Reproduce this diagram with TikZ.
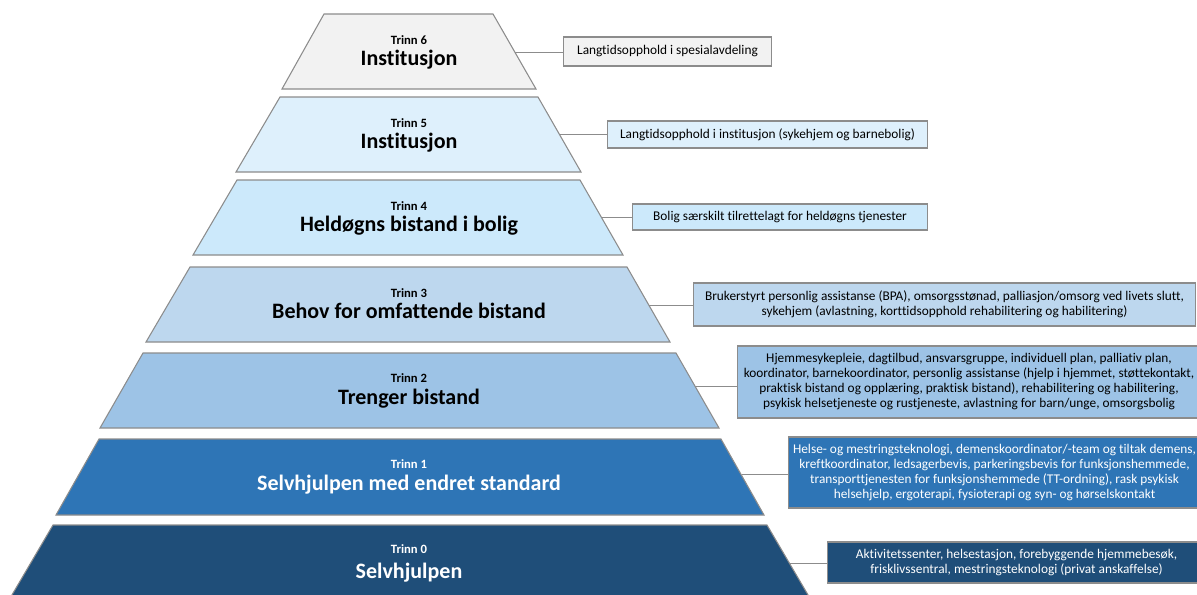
\documentclass[tikz,border=0pt]{standalone}
\usepackage{fontspec}
\setmainfont{Carlito}[Ligatures=NoCommon]
\definecolor{kant}{HTML}{8C8C8C}
\definecolor{farge6}{HTML}{F2F2F2}
\definecolor{farge5}{HTML}{DEF0FC}
\definecolor{farge4}{HTML}{CCE9FB}
\definecolor{farge3}{HTML}{BDD7EE}
\definecolor{farge2}{HTML}{9DC3E6}
\definecolor{farge1}{HTML}{2E75B6}
\definecolor{farge0}{HTML}{1F4E79}
\tikzset{
  niva/.style={draw=kant, line width=0.8pt},
  boks/.style={draw=kant, line width=0.8pt, anchor=west, align=center, inner sep=2pt,
    font=\fontsize{10}{11.25}\selectfont},
  trinn/.style={anchor=base, font=\fontsize{9.5}{11}\selectfont\bfseries},
  tittel/.style={anchor=base, font=\fontsize{16.5}{19}\selectfont\bfseries},
  linje/.style={draw=kant, line width=0.7pt}
}
\begin{document}
\begin{tikzpicture}[x=0.75pt, y=-0.75pt]
\useasboundingbox (0,0) rectangle (1197,594);
% trinn 6
\draw[niva, fill=farge6] (324,14) -- (493,14) -- (536,89) -- (282,89) -- cycle;
\node[trinn] (n6) at (409,44) {Trinn 6};
\node[tittel] (t6) at (409,65) {Institusjon};
% trinn 5
\draw[niva, fill=farge5] (280,97) -- (538,97) -- (581,172) -- (236,172) -- cycle;
\node[trinn] (n5) at (409,127) {Trinn 5};
\node[tittel] (t5) at (409,148) {Institusjon};
% trinn 4
\draw[niva, fill=farge4] (237,180) -- (580,180) -- (623,255) -- (193,255) -- cycle;
\node[trinn] (n4) at (409,210) {Trinn 4};
\node[tittel] (t4) at (409,231) {Heldøgns bistand i bolig};
% trinn 3
\draw[niva, fill=farge3] (190,267) -- (627,267) -- (670,342) -- (146,342) -- cycle;
\node[trinn] (n3) at (409,297) {Trinn 3};
\node[tittel] (t3) at (409,318) {Behov for omfattende bistand};
% trinn 2
\draw[niva, fill=farge2] (143,353) -- (676,353) -- (719,428) -- (100,428) -- cycle;
\node[trinn] (n2) at (409,382) {Trinn 2};
\node[tittel] (t2) at (409,404) {Trenger bistand};
% trinn 1
\draw[niva, fill=farge1] (99,439) -- (721,439) -- (764,515) -- (56,515) -- cycle;
\node[trinn, text=white] (n1) at (409,468) {Trinn 1};
\node[tittel, text=white] (t1) at (409,490) {Selvhjulpen med endret standard};
% trinn 0
\draw[niva, fill=farge0] (53,525) -- (767,525) -- (811,600) -- (9,600) -- cycle;
\node[trinn, text=white] (n0) at (409,553) {Trinn 0};
\node[tittel, text=white] (t0) at (409,578) {Selvhjulpen};
% tjenester
\node[boks, fill=farge6, minimum width=156pt, minimum height=21.75pt] (b6) at (563,51.5)
  {Langtidsopphold i spesialavdeling};
\node[boks, fill=farge5, minimum width=240pt, minimum height=20.25pt] (b5) at (607,134.5)
  {Langtidsopphold i institusjon (sykehjem og barnebolig)};
\node[boks, fill=farge4, minimum width=221.25pt, minimum height=19.5pt] (b4) at (632,217)
  {Bolig særskilt tilrettelagt for heldøgns tjenester};
\node[boks, fill=farge3, minimum width=376.5pt, minimum height=32.25pt] (b3) at (693,304.5)
  {Brukerstyrt personlig assistanse (BPA), omsorgsstønad, palliasjon/omsorg ved livets slutt,\\
   sykehjem (avlastning, korttidsopphold rehabilitering og habilitering)};
\node[boks, fill=farge2, minimum width=347.25pt, minimum height=54pt] (b2) at (737,382)
  {Hjemmesykepleie, dagtilbud, ansvarsgruppe, individuell plan, palliativ plan,\\
   koordinator, barnekoordinator, personlig assistanse (hjelp i hjemmet, støttekontakt,\\
   praktisk bistand og opplæring, praktisk bistand), rehabilitering og habilitering,\\
   psykisk helsetjeneste og rustjeneste, avlastning for barn/unge, omsorgsbolig};
\node[boks, fill=farge1, text=white, minimum width=309pt, minimum height=53.25pt] (b1) at (788,472.5)
  {Helse- og mestringsteknologi, demenskoordinator/-team og tiltak demens,\\
   kreftkoordinator, ledsagerbevis, parkeringsbevis for funksjonshemmede,\\
   transporttjenesten for funksjonshemmede (TT-ordning), rask psykisk\\
   helsehjelp, ergoterapi, fysioterapi og syn- og hørselskontakt};
\node[boks, fill=farge0, text=white, minimum width=283.5pt, minimum height=30.75pt] (b0) at (827,562.5)
  {Aktivitetssenter, helsestasjon, forebyggende hjemmebesøk,\\
   frisklivssentral, mestringsteknologi (privat anskaffelse)};
% linjer
\coordinate (k6) at (515,52);
\coordinate (k5) at (560,134);
\coordinate (k4) at (602,217);
\coordinate (k3) at (649,305);
\coordinate (k2) at (695,386);
\coordinate (k1) at (742,474);
\coordinate (k0) at (789,563);
\draw[linje] (k6) -- (k6 -| b6.west);
\draw[linje] (k5) -- (k5 -| b5.west);
\draw[linje] (k4) -- (k4 -| b4.west);
\draw[linje] (k3) -- (k3 -| b3.west);
\draw[linje] (k2) -- (k2 -| b2.west);
\draw[linje] (k1) -- (k1 -| b1.west);
\draw[linje] (k0) -- (k0 -| b0.west);
\end{tikzpicture}
\end{document}
